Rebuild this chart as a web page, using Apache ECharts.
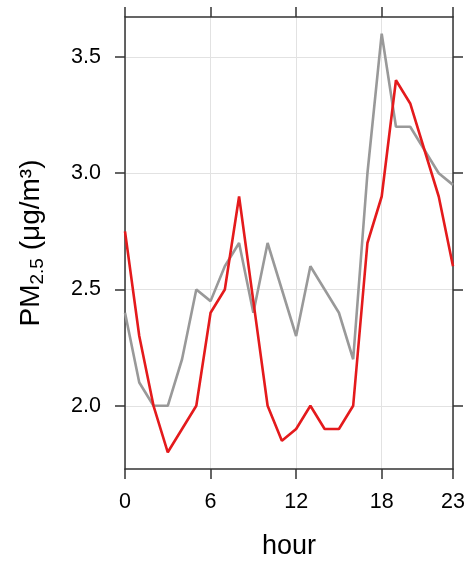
<!DOCTYPE html>
<html>
<head>
<meta charset="utf-8">
<script src="https://cdn.jsdelivr.net/npm/echarts@6/dist/echarts.min.js"></script>
<style>
html,body{margin:0;padding:0;background:#fff;}
#c{width:467px;height:563px;}
</style>
</head>
<body>
<div id="c"></div>
<script>
var hours = [0,1,2,3,4,5,6,7,8,9,10,11,12,13,14,15,16,17,18,19,20,21,22,23];
var redSeries = [2.75,2.3,2.0,1.8,1.9,2.0,2.4,2.5,2.9,2.45,2.0,1.85,1.9,2.0,1.9,1.9,2.0,2.7,2.9,3.4,3.3,3.1,2.9,2.6];
var graySeries = [2.4,2.1,2.0,2.0,2.2,2.5,2.45,2.6,2.7,2.4,2.7,2.5,2.3,2.6,2.5,2.4,2.2,3.0,3.6,3.2,3.2,3.1,3.0,2.95];
var xTicks = [0,6,12,18,23];
var yTicks = [2.0,2.5,3.0,3.5];

var FONT = 'Liberation Sans, Arial, sans-serif';
var axisCol = '#333';
var chart = echarts.init(document.getElementById('c'));

function pairs(vals){ return hours.map(function(h,i){ return [h, vals[i]]; }); }

var baseX = {
  type:'value', min:0, max:23,
  axisLine:{show:true, onZero:false, lineStyle:{color:axisCol, width:1.5}},
  axisTick:{show:true, inside:false, length:10, customValues:xTicks, lineStyle:{color:axisCol, width:1.5}},
  splitLine:{show:false}
};
var baseY = {
  type:'value', min:1.728, max:3.672,
  axisLine:{show:true, onZero:false, lineStyle:{color:axisCol, width:1.5}},
  axisTick:{show:true, inside:false, length:10, customValues:yTicks, lineStyle:{color:axisCol, width:1.5}},
  splitLine:{show:false}
};

chart.setOption({
  animation:false,
  backgroundColor:'#fff',
  grid:{left:125, right:14, top:17, bottom:94, containLabel:false, outerBoundsMode:'none'},
  xAxis:[
    Object.assign({}, baseX, {
      position:'bottom',
      name:'hour', nameLocation:'middle', nameGap:64,
      nameTextStyle:{fontFamily:FONT, fontSize:27, color:'#000'},
      axisLabel:{show:true, customValues:xTicks, margin:22, fontFamily:FONT, fontSize:21.5, color:'#000'},
      splitLine:{show:true, lineStyle:{color:'#e2e2e2', width:1}}
    }),
    Object.assign({}, baseX, {position:'top', axisLabel:{show:false}})
  ],
  yAxis:[
    Object.assign({}, baseY, {
      position:'left',
      name:'{a|PM}{b|2.5}{a| (μg/m³)}', nameLocation:'middle', nameGap:78, nameRotate:90,
      nameTextStyle:{
        fontFamily:FONT, color:'#000',
        rich:{
          a:{fontFamily:FONT, fontSize:28, color:'#000', lineHeight:32},
          b:{fontFamily:FONT, fontSize:19, color:'#000', lineHeight:14, verticalAlign:'bottom'}
        }
      },
      axisLabel:{show:true, customValues:yTicks, margin:24, fontFamily:FONT, fontSize:21.5, color:'#000',
        formatter:function(v){ return Number(v).toFixed(1); }},
      splitLine:{show:true, lineStyle:{color:'#e2e2e2', width:1}}
    }),
    Object.assign({}, baseY, {position:'right', axisLabel:{show:false}})
  ],
  series:[
    {type:'line', name:'gray', data:pairs(graySeries), showSymbol:false, symbol:'none',
     lineStyle:{color:'#999999', width:2.6}, itemStyle:{color:'#999999'}, z:2},
    {type:'line', name:'red', data:pairs(redSeries), showSymbol:false, symbol:'none',
     lineStyle:{color:'#e41a1c', width:2.6}, itemStyle:{color:'#e41a1c'}, z:3}
  ]
});
</script>
</body>
</html>
